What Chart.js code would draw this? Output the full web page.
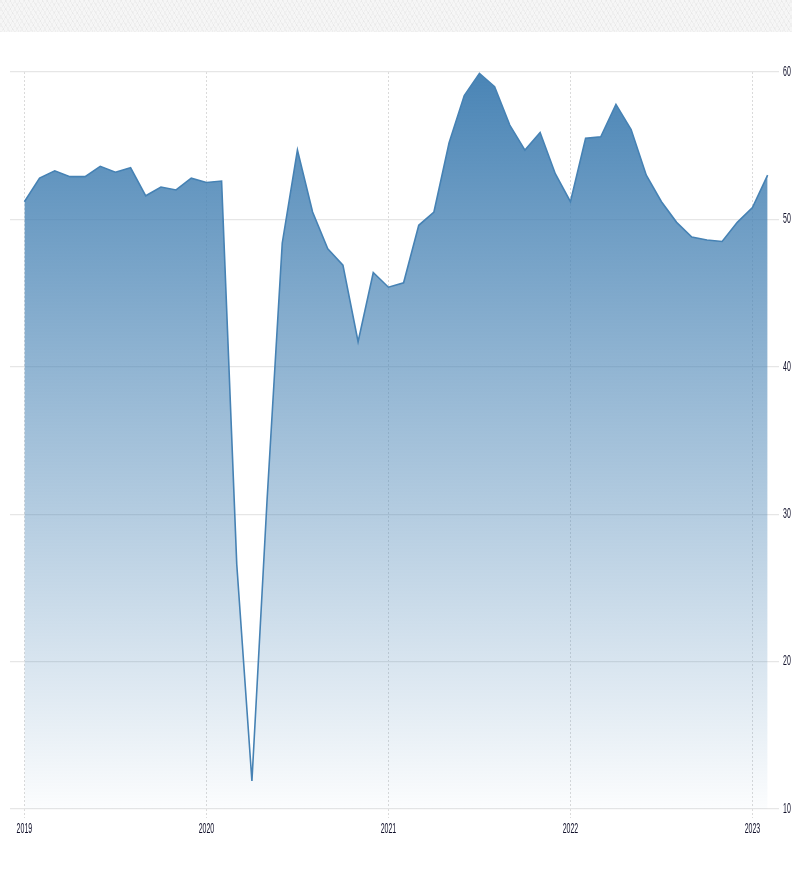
<!DOCTYPE html>
<html>
<head>
<meta charset="utf-8">
<script src="https://cdn.jsdelivr.net/npm/chart.js@4.4.0/dist/chart.umd.min.js"></script>
<style>
  html, body { margin: 0; padding: 0; background: #ffffff; }
  #wrap { position: relative; width: 792px; height: 872px; }
  #banner {
    position: absolute; left: 0; top: 0; width: 792px; height: 32px;
    background-color: #f6f6f6;
    background-image:
      repeating-linear-gradient(60deg, rgba(0,0,0,0.03) 0px, rgba(0,0,0,0.03) 1px, transparent 1px, transparent 4px),
      repeating-linear-gradient(-60deg, rgba(0,0,0,0.025) 0px, rgba(0,0,0,0.025) 1px, transparent 1px, transparent 4px);
  }
  #c { position: absolute; left: 0; top: 0; }
</style>
</head>
<body>
<div id="wrap">
  <div id="banner"></div>
  <canvas id="c" width="792" height="872"></canvas>
</div>
<script>
// ---- Data ----
const months = [
  'Jan 2019','Feb 2019','Mar 2019','Apr 2019','May 2019','Jun 2019','Jul 2019','Aug 2019','Sep 2019','Oct 2019','Nov 2019','Dec 2019',
  'Jan 2020','Feb 2020','Mar 2020','Apr 2020','May 2020','Jun 2020','Jul 2020','Aug 2020','Sep 2020','Oct 2020','Nov 2020','Dec 2020',
  'Jan 2021','Feb 2021','Mar 2021','Apr 2021','May 2021','Jun 2021','Jul 2021','Aug 2021','Sep 2021','Oct 2021','Nov 2021','Dec 2021',
  'Jan 2022','Feb 2022','Mar 2022','Apr 2022','May 2022','Jun 2022','Jul 2022','Aug 2022','Sep 2022','Oct 2022','Nov 2022','Dec 2022',
  'Jan 2023','Feb 2023'
];
const values = [
  51.2, 52.8, 53.3, 52.9, 52.9, 53.6, 53.2, 53.5, 51.6, 52.2, 52.0, 52.8,
  52.5, 52.6, 26.6, 11.9, 31.0, 48.4, 54.7, 50.5, 48.0, 46.9, 41.7, 46.4,
  45.4, 45.7, 49.6, 50.5, 55.2, 58.4, 59.9, 59.0, 56.4, 54.7, 55.9, 53.1,
  51.2, 55.5, 55.6, 57.8, 56.1, 53.0, 51.2, 49.8, 48.8, 48.6, 48.5, 49.8,
  50.8, 53.0
];
const yearLabels = ['2019', '2020', '2021', '2022', '2023'];
const yTicks = [10, 20, 30, 40, 50, 60];

const yearTickIndex = yearLabels.map(y => months.indexOf('Jan ' + y));
const points = values.map((v, i) => ({ x: i, y: v }));

const LINE = '#4682b4';

const labelPlugin = {
  id: 'condensedLabels',
  afterDraw(chart) {
    const ctx = chart.ctx;
    const xs = chart.scales.x, ys = chart.scales.y;
    ctx.save();
    ctx.fillStyle = '#10102a';
    ctx.font = '14px "Liberation Sans", Arial, sans-serif';
    ctx.textBaseline = 'middle';
    yearLabels.forEach((lab, k) => {
      const px = xs.getPixelForValue(yearTickIndex[k]);
      ctx.save();
      ctx.translate(px, chart.chartArea.bottom + 20);
      ctx.scale(0.5, 1);
      ctx.textAlign = 'center';
      ctx.fillText(lab, 0, 0);
      ctx.restore();
    });
    yTicks.forEach(v => {
      const py = ys.getPixelForValue(v);
      ctx.save();
      ctx.translate(chart.chartArea.right + 4, py);
      ctx.scale(0.5, 1);
      ctx.textAlign = 'left';
      ctx.fillText(String(v), 0, 0);
      ctx.restore();
    });
    ctx.restore();
  }
};

new Chart(document.getElementById('c'), {
  type: 'line',
  data: {
    labels: months,
    datasets: [{
      label: 'Index',
      data: points,
      borderColor: LINE,
      borderWidth: 1.6,
      pointRadius: 0,
      tension: 0,
      fill: 'start',
      backgroundColor(context) {
        const chart = context.chart;
        const area = chart.chartArea;
        if (!area) return 'rgba(70,130,180,0.5)';
        const g = chart.ctx.createLinearGradient(0, area.top, 0, area.bottom);
        g.addColorStop(0, 'rgba(70,130,180,0.98)');
        g.addColorStop(1, 'rgba(70,130,180,0.02)');
        return g;
      }
    }]
  },
  options: {
    responsive: false,
    animation: false,
    events: [],
    layout: { padding: { left: 10, right: 13, top: 72, bottom: 54 } },
    plugins: { legend: { display: false }, tooltip: { enabled: false } },
    scales: {
      x: {
        type: 'linear',
        min: -0.95,
        max: 49.75,
        afterBuildTicks(scale) { scale.ticks = yearTickIndex.map(v => ({ value: v })); },
        ticks: { display: false },
        grid: {
          color: '#dadada',
          lineWidth: 1,
          drawTicks: true,
          tickLength: 9,
          tickColor: '#dadada',
          tickBorderDash: [2, 2]
        },
        border: { display: false, dash: [2, 2] }
      },
      y: {
        type: 'linear',
        position: 'right',
        min: 10,
        max: 60,
        afterBuildTicks(scale) { scale.ticks = yTicks.map(v => ({ value: v })); },
        ticks: { display: false },
        grid: { color: '#e6e6e6', lineWidth: 1.3, drawTicks: false },
        border: { display: false }
      }
    }
  },
  plugins: [labelPlugin]
});
</script>
</body>
</html>
